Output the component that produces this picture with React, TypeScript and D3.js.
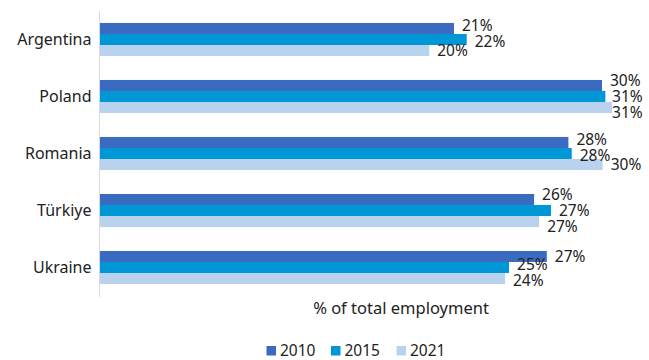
import React from "react";
import * as d3 from "d3";

const categories = ["Argentina", "Poland", "Romania", "Türkiye", "Ukraine"];
const seriesNames = ["2010", "2015", "2021"];
const values2010 = [21.17, 30.02, 28.01, 25.96, 26.72];
const values2015 = [21.93, 30.22, 28.21, 26.97, 24.46];
const values2021 = [19.69, 30.62, 30.06, 26.26, 24.22];
const labels2010 = ["21%", "30%", "28%", "26%", "27%"];
const labels2015 = ["22%", "31%", "28%", "27%", "25%"];
const labels2021 = ["20%", "31%", "30%", "27%", "24%"];
const axisTitle = "% of total employment";

const colors = ["#3b6bc1", "#0097d7", "#b9d3ee"];
const FONT = "'Noto Sans', 'Open Sans', sans-serif";
const TEXT = "#222";

const W = 649;
const H = 360;

export default function App() {
  const seriesValues = [values2010, values2015, values2021];
  const seriesLabels = [labels2010, labels2015, labels2021];

  const x = d3.scaleLinear().domain([0, 36]).range([100, 702]);
  const y = d3
    .scaleBand<string>()
    .domain(categories)
    .range([11, 296])
    .paddingInner(0.42)
    .paddingOuter(0.21);
  const ySub = d3
    .scaleBand<string>()
    .domain(seriesNames)
    .range([0, y.bandwidth()]);

  // label positions with simple collision relaxation
  const labelFont = 15.5;
  const charW = 0.664 * labelFont;
  const minGap = 16;
  const rightLimit = 643;
  const labelNodes: { x: number; y: number; text: string; key: string }[] = [];
  categories.forEach((c, ci) => {
    const group = seriesNames.map((s, si) => {
      const v = seriesValues[si][ci];
      const w = seriesLabels[si][ci].length * charW;
      return {
        x: Math.min(x(v) + 8, rightLimit - w),
        y: (y(c) as number) + (ySub(s) as number) + ySub.bandwidth() / 2,
        text: seriesLabels[si][ci],
        key: c + s,
        w,
      };
    });
    for (let iter = 0; iter < 50; iter++) {
      let moved = false;
      for (let i = 0; i < group.length; i++) {
        for (let j = i + 1; j < group.length; j++) {
          const a = group[i];
          const b = group[j];
          const xo = a.x < b.x + b.w && b.x < a.x + a.w;
          const dy = b.y - a.y;
          if (xo && dy < minGap - 0.01) {
            const push = (minGap - dy) / 2;
            a.y -= push;
            b.y += push;
            moved = true;
          }
        }
      }
      if (!moved) break;
    }
    group.forEach((g) => labelNodes.push(g));
  });

  const legendX = [266.5, 331, 396.5];

  return (
    <svg width={W} height={H} style={{ position: "absolute", left: 0, top: 0, fontFamily: FONT }}>
      <rect width={W} height={H} fill="#fff" />
      {categories.map((c, ci) => (
        <g key={c} transform={`translate(0,${y(c)})`}>
          {seriesNames.map((s, si) => (
            <rect
              key={s}
              x={x(0)}
              y={ySub(s)}
              width={x(seriesValues[si][ci]) - x(0)}
              height={ySub.bandwidth()}
              fill={colors[si]}
            />
          ))}
          <text
            x={91.5}
            y={y.bandwidth() / 2}
            dy="0.35em"
            textAnchor="end"
            fontSize={16}
            fill={TEXT}
          >
            {c}
          </text>
        </g>
      ))}
      <line x1={99.5} x2={99.5} y1={11} y2={297} stroke="#d9d9d9" strokeWidth={1} />
      {labelNodes.map((l) => (
        <text key={l.key} x={l.x} y={l.y} dy="0.35em" fontSize={labelFont} fill={TEXT}>
          {l.text}
        </text>
      ))}
      <text x={401} y={314} textAnchor="middle" fontSize={16.5} fill={TEXT}>
        {axisTitle}
      </text>
      {seriesNames.map((s, si) => (
        <g key={s} transform={`translate(${legendX[si]},0)`}>
          <rect x={0} y={346} width={9.5} height={9.5} fill={colors[si]} />
          <text x={13.5} y={356} fontSize={15.5} fill={TEXT}>
            {s}
          </text>
        </g>
      ))}
    </svg>
  );
}
